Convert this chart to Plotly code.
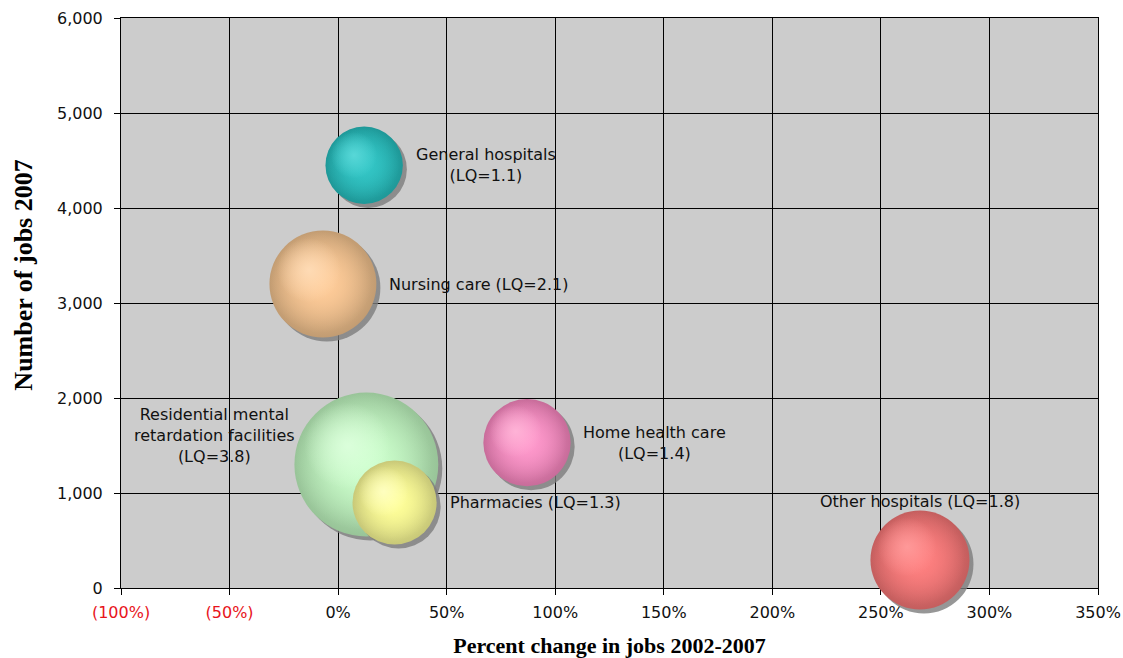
import numpy as np
import plotly.graph_objects as go

# Health care industries: growth 2002-2007, jobs in 2007, location quotient
industries = [
    "General hospitals",
    "Nursing care",
    "Residential mental<br>retardation facilities",
    "Pharmacies",
    "Home health care",
    "Other hospitals",
]
pct_change_2002_2007 = [0.12, -0.07, 0.13, 0.26, 0.87, 2.68]
jobs_2007 = [4450, 3200, 1300, 900, 1530, 295]
location_quotient = [1.1, 2.1, 3.8, 1.3, 1.4, 1.8]

x_tick_values = [-1.0, -0.5, 0.0, 0.5, 1.0, 1.5, 2.0, 2.5, 3.0, 3.5]
y_tick_values = [0, 1000, 2000, 3000, 4000, 5000, 6000]

# --- styling ---------------------------------------------------------------
body_colors = ["#33C6C6", "#FFCC99", "#CCFFCC", "#FFFF99", "#FF99CC", "#FF8080"]
rim_colors = ["#1E9898", "#C29C72", "#98C498", "#C8C878", "#C86C9A", "#C45E5E"]
glow_colors = ["#5CDADA", "#FFDDB8", "#DDFFDD", "#FFFFC4", "#FFB6D8", "#FF9C9C"]
label_break = ["<br>", " ", "<br>", " ", "<br>", " "]
label_anchor = ["left", "left", "right", "left", "left", "center"]
label_dx = [50, 64, -69, 53, 54, 0]
label_dy = [0, 0, 29, 0, 0, 58]

W, H = 1123, 658
M = dict(l=121, r=25, t=18, b=70)
X_RANGE = [-1.0, 3.5]
Y_RANGE = [0, 6000]
plot_w = W - M["l"] - M["r"]
plot_h = H - M["t"] - M["b"]
x_per_px = (X_RANGE[1] - X_RANGE[0]) / plot_w
y_per_px = (Y_RANGE[1] - Y_RANGE[0]) / plot_h

RADIUS_PER_SQRT_LQ = 36.9          # px radius of a bubble with LQ = 1
SIZEREF = 1.0 / (2 * RADIUS_PER_SQRT_LQ ** 2)


def rgba(hex_color, alpha):
    h = hex_color.lstrip("#")
    r, g, b = int(h[0:2], 16), int(h[2:4], 16), int(h[4:6], 16)
    return f"rgba({r},{g},{b},{alpha})"


def pct_label(v):
    pct = int(round(v * 100))
    if pct < 0:
        return f"<span style='color:#E8141B'>({abs(pct)}%)</span>"
    return f"{pct}%"


fig = go.Figure()


def add_disc(x, y, lq, scale, dx_px, dy_px, color, gradient=None):
    marker = dict(
        size=[lq * scale ** 2],
        sizemode="area",
        sizeref=SIZEREF,
        color=color,
        line=dict(width=0),
        opacity=1,
    )
    if gradient is not None:
        marker["gradient"] = dict(type="radial", color=gradient)
    fig.add_trace(
        go.Scatter(
            x=[x + dx_px * x_per_px],
            y=[y - dy_px * y_per_px],
            mode="markers",
            marker=marker,
            cliponaxis=False,
            hoverinfo="skip",
            showlegend=False,
        )
    )


for i, name in enumerate(industries):
    x, y, lq = pct_change_2002_2007[i], jobs_2007[i], location_quotient[i]
    r_px = RADIUS_PER_SQRT_LQ * np.sqrt(lq)
    # drop shadow
    add_disc(x, y, lq, 1.0, 4, 4, "rgba(125,125,125,0.8)", "rgba(125,125,125,0.9)")
    # shaded rim
    add_disc(x, y, lq, 1.0, 0, 0, rim_colors[i], body_colors[i])
    # main body
    add_disc(x, y, lq, 0.95, -0.04 * r_px, -0.04 * r_px,
             rgba(body_colors[i], 0.0), rgba(body_colors[i], 1.0))
    # soft highlight towards the upper left
    add_disc(x, y, lq, 0.6, -0.26 * r_px, -0.26 * r_px,
             rgba(glow_colors[i], 0.0), rgba(glow_colors[i], 0.9))

    fig.add_annotation(
        x=x, y=y, xref="x", yref="y",
        text=f"{name}{label_break[i]}(LQ={lq})",
        showarrow=False,
        xanchor=label_anchor[i], yanchor="middle",
        xshift=label_dx[i], yshift=label_dy[i],
        align="center",
        font=dict(family="DejaVu Sans", size=16, color="#111111"),
    )

# vertical axis title
fig.add_annotation(
    x=0, y=(Y_RANGE[1] * 0.548), xref="paper", yref="y",
    text="<b>Number of jobs 2007</b>",
    showarrow=False, textangle=-90,
    xanchor="center", yanchor="middle", xshift=-97,
    font=dict(family="Liberation Serif", size=26, color="black"),
)

axis_common = dict(
    showgrid=True, gridcolor="black", gridwidth=1,
    zeroline=False,
    showline=True, mirror=True, linecolor="black", linewidth=1,
    ticks="outside", ticklen=6, tickcolor="black", tickwidth=1,
    layer="below traces",
    automargin=False,
    tickfont=dict(family="DejaVu Sans", size=16, color="#111111"),
)

fig.update_layout(
    width=W, height=H,
    margin=M,
    paper_bgcolor="white",
    plot_bgcolor="#CCCCCC",
    showlegend=False,
    xaxis=dict(
        range=X_RANGE,
        tickvals=x_tick_values,
        ticktext=[pct_label(v) for v in x_tick_values],
        ticklabelstandoff=4,
        title=dict(
            text="<b>Percent change in jobs 2002-2007</b>",
            font=dict(family="Liberation Serif", size=22, color="black"),
            standoff=18,
        ),
        **axis_common,
    ),
    yaxis=dict(
        range=Y_RANGE,
        tickvals=y_tick_values,
        tickformat=",",
        ticklabelstandoff=8,
        **axis_common,
    ),
)

fig.write_html("out.html")
